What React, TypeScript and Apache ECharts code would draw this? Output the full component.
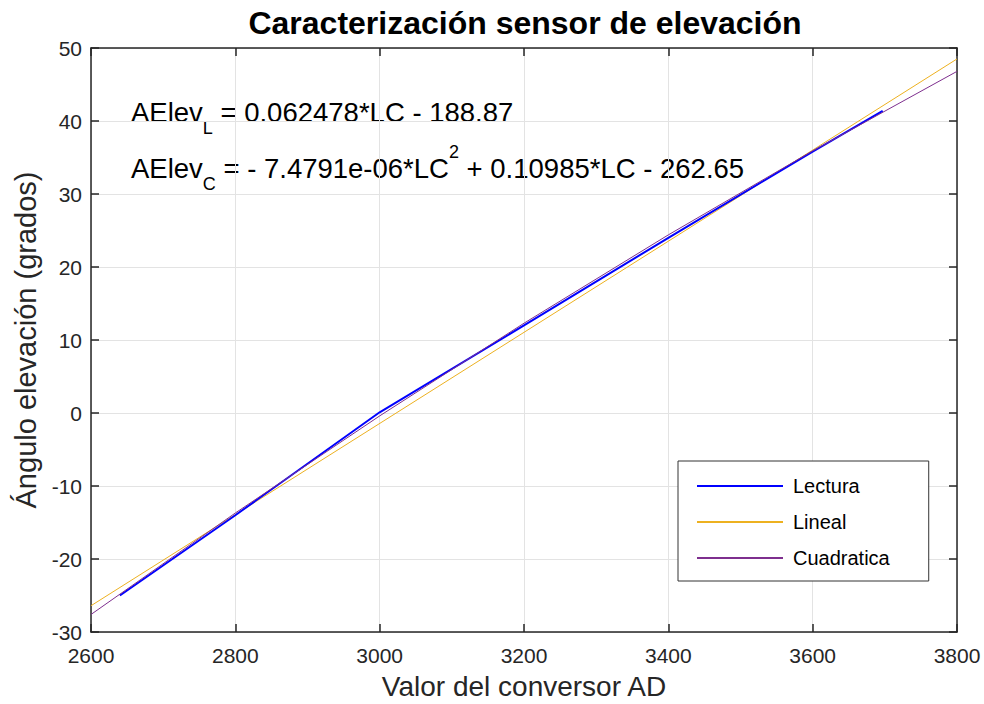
import React, { useEffect, useRef } from "react";
import * as echarts from "echarts";

const lecturaX = [2640, 2800, 3000, 3200, 3400, 3600, 3697];
const lecturaY = [-25, -14, 0.1, 12, 24, 35.8, 41.4];
const linealX = [2600, 3800];
const linealY = [-26.4, 48.5];
const cuadX = [2600, 2800, 3000, 3200, 3400, 3600, 3800];
const cuadY = [-27.6, -13.7, -0.4, 12.3, 24.4, 35.9, 46.8];

const seriesNames = ["Lectura", "Lineal", "Cuadratica"];
const titleText = "Caracterización sensor de elevación";
const xName = "Valor del conversor AD";
const yName = "Ángulo elevación (grados)";
const eqLin = "0.062478*LC - 188.87";
const eqCuadA = "- 7.4791e-06*LC";
const eqCuadB = "+ 0.10985*LC - 262.65";

const zip = (xs: number[], ys: number[]) => xs.map((x, i) => [x, ys[i]]);

const FONT = "Liberation Sans, Arial, Helvetica, sans-serif";
const AX = "#262626";

export default function App() {
  const ref = useRef<HTMLDivElement>(null);
  useEffect(() => {
    const chart = echarts.init(ref.current!, null, { renderer: "svg" });
    const baseX = {
      type: "value" as const,
      min: 2600,
      max: 3800,
      interval: 200,
      splitLine: { show: true, lineStyle: { color: "#e3e3e3", width: 1 } },
      axisLine: { show: true, onZero: false, lineStyle: { color: AX, width: 1.5 } },
      axisTick: { show: true, inside: true, length: 8, lineStyle: { color: AX, width: 1.5 } },
    };
    const baseY = {
      type: "value" as const,
      min: -30,
      max: 50,
      interval: 10,
      splitLine: { show: true, lineStyle: { color: "#e3e3e3", width: 1 } },
      axisLine: { show: true, onZero: false, lineStyle: { color: AX, width: 1.5 } },
      axisTick: { show: true, inside: true, length: 8, lineStyle: { color: AX, width: 1.5 } },
    };
    const mainRich = {
      sub: { fontFamily: FONT, fontSize: 18, lineHeight: 18, verticalAlign: "bottom", fill: "#000" },
      sup: { fontFamily: FONT, fontSize: 18, lineHeight: 18, verticalAlign: "top", fill: "#000" },
    };
    chart.setOption({
      animation: false,
      backgroundColor: "#ffffff",
      textStyle: { fontFamily: FONT },
      title: {
        text: titleText,
        left: 520,
        top: 2,
        textAlign: "center",
        textStyle: { fontFamily: FONT, fontSize: 32, fontWeight: "bold", color: "#000" },
      },
      grid: { left: 91, right: 27, top: 48, bottom: 72, outerBoundsMode: "none", containLabel: false },
      xAxis: [
        {
          ...baseX,
          position: "bottom",
          name: xName,
          nameLocation: "middle",
          nameGap: 40,
          nameTextStyle: { fontFamily: FONT, fontSize: 28, color: AX, lineHeight: 28 },
          axisLabel: { fontFamily: FONT, fontSize: 21, color: AX, margin: 13, formatter: (v: number) => String(v) },
        },
        {
          ...baseX,
          position: "top",
          splitLine: { show: false },
          axisLabel: { show: false },
        },
      ],
      yAxis: [
        {
          ...baseY,
          position: "left",
          name: yName,
          nameLocation: "middle",
          nameGap: 45,
          nameTextStyle: { fontFamily: FONT, fontSize: 29, color: AX },
          axisLabel: { fontFamily: FONT, fontSize: 21, color: AX, margin: 9, formatter: (v: number) => String(v) },
        },
        {
          ...baseY,
          position: "right",
          splitLine: { show: false },
          axisLabel: { show: false },
        },
      ],
      legend: {
        orient: "vertical",
        left: 678,
        top: 461,
        backgroundColor: "#fff",
        borderColor: "#333",
        borderWidth: 1,
        padding: [15, 39, 13, 18],
        itemWidth: 86,
        itemHeight: 14,
        itemGap: 16,
        itemStyle: { opacity: 0 },
        textStyle: { fontFamily: FONT, fontSize: 20, color: "#000", padding: [0, 0, 0, 5] },
        data: seriesNames,
      },
      graphic: [
        {
          type: "text",
          left: 131,
          top: 87,
          style: {
            text: "AElev{sub|L} = " + eqLin,
            fontFamily: FONT,
            fontSize: 27.5,
            lineHeight: 50,
            fill: "#000",
            rich: mainRich,
          },
        },
        {
          type: "text",
          left: 131,
          top: 143,
          style: {
            text: "AElev{sub|C} = " + eqCuadA + "{sup|2} " + eqCuadB,
            fontFamily: FONT,
            fontSize: 27.5,
            lineHeight: 50,
            fill: "#000",
            rich: mainRich,
          },
        },
      ],
      series: [
        {
          name: seriesNames[0],
          type: "line",
          data: zip(lecturaX, lecturaY),
          symbol: "none",
          lineStyle: { color: "#0000ff", width: 2 },
          itemStyle: { color: "#0000ff" },
          z: 4,
        },
        {
          name: seriesNames[1],
          type: "line",
          data: zip(linealX, linealY),
          symbol: "none",
          lineStyle: { color: "#EDB120", width: 1 },
          itemStyle: { color: "#EDB120" },
          z: 3,
        },
        {
          name: seriesNames[2],
          type: "line",
          data: zip(cuadX, cuadY),
          symbol: "none",
          lineStyle: { color: "#7E2F8E", width: 1 },
          itemStyle: { color: "#7E2F8E" },
          z: 5,
        },
      ],
    });
    return () => chart.dispose();
  }, []);
  return (
    <div
      ref={ref}
      style={{ position: "fixed", left: 0, top: 0, width: 984, height: 704 }}
    />
  );
}
